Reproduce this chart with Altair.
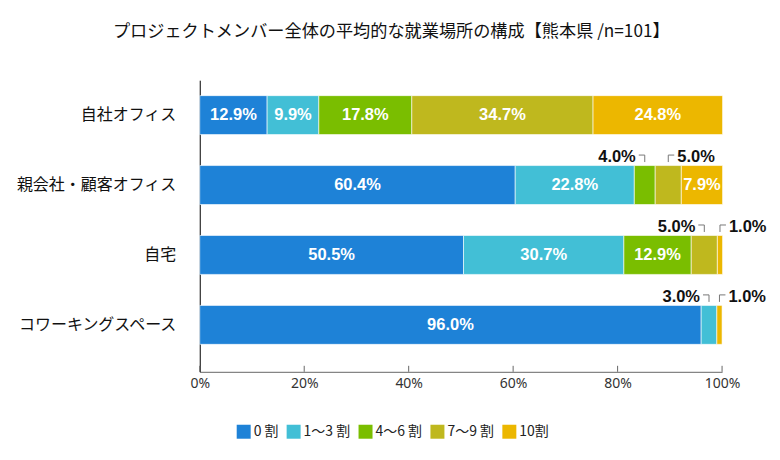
import altair as alt
import pandas as pd

title_text = "プロジェクトメンバー全体の平均的な就業場所の構成【熊本県 /n=101】"
categories = ["自社オフィス", "親会社・顧客オフィス", "自宅", "コワーキングスペース"]
series = ["0 割", "1～3 割", "4～6 割", "7～9 割", "10割"]
colors = ["#1e82d7", "#42bfd6", "#7abe00", "#bfb81e", "#ecb700"]
v_own = [12.9, 9.9, 17.8, 34.7, 24.8]
v_client = [60.4, 22.8, 4.0, 5.0, 7.9]
v_home = [50.5, 30.7, 12.9, 5.0, 1.0]
v_cowork = [96.0, 3.0, 0.0, 0.0, 1.0]
x_ticks = [0, 20, 40, 60, 80, 100]

rows = []
for cat, vals in zip(categories, [v_own, v_client, v_home, v_cowork]):
    start = 0.0
    outside_n = 0
    for i, (s, v) in enumerate(zip(series, vals)):
        end = start + v
        if v > 0:
            inside = v >= 7
            side = ""
            if not inside:
                side = "L" if outside_n == 0 else "R"
                outside_n += 1
            rows.append(dict(cat=cat, series=s, idx=i, val=v, start=start, end=end,
                             center=(start + end) / 2, label=f"{v:.1f}%",
                             inside=inside, side=side))
        start = end
df = pd.DataFrame(rows)
ticks_df = pd.DataFrame({"v": x_ticks})

W, H = 523, 292
yscale = alt.Scale(domain=categories, paddingInner=0.443, paddingOuter=0.307, align=0.36)
xscale = alt.Scale(domain=[0, 100], nice=False)

Y = alt.Y("cat:N", scale=yscale, sort=categories, title=None)
XC = alt.X("center:Q", scale=xscale, title=None)

base = alt.Chart(df)

bars = base.mark_bar(stroke="white", strokeWidth=0.6).encode(
    y=Y,
    x=alt.X("start:Q", scale=xscale, title=None,
            axis=alt.Axis(values=x_ticks, labelExpr="datum.value + '%'")),
    x2="end:Q",
    color=alt.Color("series:N", scale=alt.Scale(domain=series, range=colors),
                    legend=alt.Legend(orient="none", direction="horizontal",
                                      legendX=37, legendY=345, title=None,
                                      symbolType="square", symbolSize=196,
                                      symbolStrokeWidth=0, labelFontSize=14,
                                      labelFont="Noto Sans CJK JP", labelColor="#222",
                                      columnPadding=8, labelOffset=3)),
    order=alt.Order("idx:Q"),
)

inside_txt = base.transform_filter("datum.inside").mark_text(
    color="white", fontWeight="bold", fontSize=16.5, font="Liberation Sans",
    baseline="middle", align="center"
).encode(y=Y, x=XC, text="label:N")

left_txt = base.transform_filter("datum.side == 'L'").mark_text(
    color="#111", fontWeight="bold", fontSize=16.5, font="Liberation Sans",
    baseline="middle", align="right", dx=-9, dy=-28
).encode(y=Y, x=XC, text="label:N")

right_txt = base.transform_filter("datum.side == 'R'").mark_text(
    color="#111", fontWeight="bold", fontSize=16.5, font="Liberation Sans",
    baseline="middle", align="left", dx=9, dy=-28
).encode(y=Y, x=XC, text="label:N")

left_h = base.transform_filter("datum.side == 'L'").mark_rule(
    color="#777", strokeWidth=1, yOffset=-30, xOffset=-6, x2Offset=0
).encode(y=Y, x=XC, x2="center:Q")
right_h = base.transform_filter("datum.side == 'R'").mark_rule(
    color="#777", strokeWidth=1, yOffset=-30, xOffset=0, x2Offset=6
).encode(y=Y, x=XC, x2="center:Q")
vert = base.transform_filter("datum.side != ''").mark_rule(
    color="#777", strokeWidth=1, yOffset=-30, y2Offset=-23
).encode(y=Y, y2="cat:N", x=XC)

tick_marks = alt.Chart(ticks_df).mark_rule(color="#666", strokeWidth=1).encode(
    x=alt.X("v:Q", scale=xscale, title=None), y=alt.value(H - 6), y2=alt.value(H)
)

chart = alt.layer(bars, inside_txt, left_txt, right_txt, left_h, right_h, vert, tick_marks).properties(
    width=W, height=H,
    title=alt.TitleParams(title_text, fontSize=17.2, font="Noto Sans CJK JP", fontWeight="normal",
                          color="#111", anchor="middle", frame="bounds", offset=40),
    padding={"left": 7, "top": 14, "right": 5, "bottom": 5},
).configure_view(stroke=None).configure_axisY(
    ticks=False, labelPadding=24, labelFontSize=16, labelFont="Noto Sans CJK JP",
    labelColor="#111", domain=True, domainColor="#000", domainWidth=1, labelLimit=300,
    grid=False
).configure_axisX(
    ticks=False, grid=False, labelPadding=5, labelFontSize=14, labelFlush=False,
    labelFont="Noto Sans", labelColor="#333", domain=True, domainColor="#666", domainWidth=1
)

chart.save("out.html", embed_options={"renderer": "svg", "actions": False})
